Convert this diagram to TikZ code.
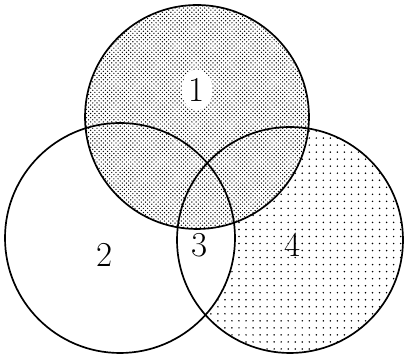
\documentclass[tikz,border=0pt]{standalone}
\usetikzlibrary{patterns,patterns.meta,shapes.geometric}
\newcommand{\setone}{(4.925,5.975) circle [radius = 2.8]}
\newcommand{\settwo}{(3.0,2.95) circle [radius = 2.875]}
\newcommand{\setfour}{(7.25,2.9) circle [radius = 2.825]}
\tikzset{rim/.style={line width=1.2pt}, lbl/.style={font=\Huge, inner sep=2pt}}
\begin{document}
\begin{tikzpicture}
\useasboundingbox (0,0) rectangle (10.1,8.9);
\fill[pattern={Dots[distance=5pt, radius=0.6pt]}] \setfour;
\begin{scope}
\clip \setfour;
\fill[white] \settwo;
\end{scope}
\fill[white] \setone;
\fill[pattern=crosshatch dots] \setone;
\draw[rim] \setone;
\draw[rim] \settwo;
\draw[rim] \setfour;
\node[lbl, fill=white, ellipse] (one) at (4.925,6.65) {1};
\node[lbl] (two) at (2.625,2.525) {2};
\node[lbl] (three) at (5.0,2.78) {3};
\node[lbl] (four) at (7.325,2.775) {4};
\end{tikzpicture}
\end{document}
